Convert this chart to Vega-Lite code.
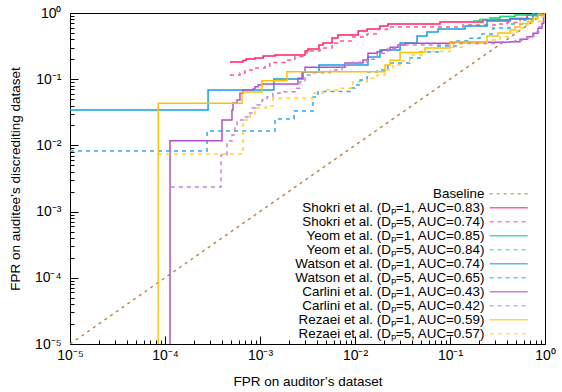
{
  "$schema": "https://vega.github.io/schema/vega-lite/v6.json",
  "width": 475,
  "height": 331,
  "autosize": "none",
  "padding": {"left": 70, "top": 13, "right": 17, "bottom": 48},
  "background": "white",
  "config": {
    "font": "Liberation Sans",
    "view": {"stroke": "black", "strokeWidth": 1},
    "axis": {
      "domain": false,
      "grid": false,
      "labelFont": "Liberation Sans",
      "labelFontSize": 14,
      "labelColor": "black",
      "titleFont": "Liberation Sans",
      "titleFontSize": 13.5,
      "titleFontWeight": "normal",
      "titleColor": "black",
      "tickColor": "black",
      "labelOverlap": false,
      "labelFlush": false
    },
    "legend": {
      "orient": "none",
      "legendX": 432,
      "legendY": 174,
      "symbolType": "M-9.5,0H9.5",
      "symbolSize": 16,
      "symbolStrokeWidth": 1.5,
      "symbolOpacity": 0.7,
      "labelAlign": "right",
      "labelOffset": -31,
      "labelFont": "Liberation Sans",
      "labelFontSize": 13.4,
      "labelColor": "black",
      "labelLimit": 400,
      "rowPadding": -2.2,
      "padding": 0
    }
  },
  "datasets": {
    "roc": [
      {"s":"B","i":0,"x":1e-5,"y":1e-5},{"s":"B","i":1,"x":1,"y":1},

      {"s":"S1","i":0,"x":4.83e-4,"y":0.182},{"s":"S1","i":1,"x":6.62e-4,"y":0.1916},{"s":"S1","i":2,"x":7.13e-4,"y":0.2018},{"s":"S1","i":3,"x":8.85e-4,"y":0.209},{"s":"S1","i":4,"x":1.08e-3,"y":0.224},{"s":"S1","i":5,"x":1.44e-3,"y":0.232},{"s":"S1","i":6,"x":2.98e-3,"y":0.267},{"s":"S1","i":7,"x":3.2e-3,"y":0.286},{"s":"S1","i":8,"x":4.18e-3,"y":0.329},{"s":"S1","i":9,"x":4.6e-3,"y":0.352},{"s":"S1","i":10,"x":5.73e-3,"y":0.419},{"s":"S1","i":11,"x":6.62e-3,"y":0.465},{"s":"S1","i":12,"x":1.08e-2,"y":0.535},{"s":"S1","i":13,"x":1.34e-2,"y":0.573},{"s":"S1","i":14,"x":1.83e-2,"y":0.636},{"s":"S1","i":15,"x":2.22e-2,"y":0.682},{"s":"S1","i":16,"x":7.85e-2,"y":0.731},{"s":"S1","i":17,"x":0.222,"y":0.784},{"s":"S1","i":18,"x":0.429,"y":0.826},{"s":"S1","i":19,"x":0.647,"y":0.933},{"s":"S1","i":20,"x":1,"y":1},

      {"s":"S5","i":0,"x":4.83e-4,"y":0.1157},{"s":"S5","i":1,"x":6.15e-4,"y":0.124},{"s":"S5","i":2,"x":6.95e-4,"y":0.1377},{"s":"S5","i":3,"x":8.24e-4,"y":0.1476},{"s":"S5","i":4,"x":1.13e-3,"y":0.158},{"s":"S5","i":5,"x":1.27e-3,"y":0.179},{"s":"S5","i":6,"x":1.83e-3,"y":0.195},{"s":"S5","i":7,"x":2.33e-3,"y":0.22},{"s":"S5","i":8,"x":2.98e-3,"y":0.249},{"s":"S5","i":9,"x":3.36e-3,"y":0.267},{"s":"S5","i":10,"x":4.28e-3,"y":0.296},{"s":"S5","i":11,"x":5.73e-3,"y":0.352},{"s":"S5","i":12,"x":6.62e-3,"y":0.378},{"s":"S5","i":13,"x":9.29e-3,"y":0.434},{"s":"S5","i":14,"x":1.34e-2,"y":0.482},{"s":"S5","i":15,"x":1.71e-2,"y":0.563},{"s":"S5","i":16,"x":2.17e-2,"y":0.614},{"s":"S5","i":17,"x":0.137,"y":0.659},{"s":"S5","i":18,"x":0.298,"y":0.682},{"s":"S5","i":19,"x":0.398,"y":0.719},{"s":"S5","i":20,"x":0.546,"y":0.826},{"s":"S5","i":21,"x":0.748,"y":0.933},{"s":"S5","i":22,"x":1,"y":1},

      {"s":"Y1","i":0,"x":0.1746,"y":0.757},{"s":"Y1","i":1,"x":0.207,"y":0.798},{"s":"Y1","i":2,"x":0.264,"y":0.84},{"s":"Y1","i":3,"x":0.336,"y":0.885},{"s":"Y1","i":4,"x":0.483,"y":0.933},{"s":"Y1","i":5,"x":0.748,"y":0.966},{"s":"Y1","i":6,"x":1,"y":1},

      {"s":"Y5","i":0,"x":0.1746,"y":0.757},{"s":"Y5","i":1,"x":0.207,"y":0.798},{"s":"Y5","i":2,"x":0.264,"y":0.84},{"s":"Y5","i":3,"x":0.336,"y":0.885},{"s":"Y5","i":4,"x":0.483,"y":0.933},{"s":"Y5","i":5,"x":0.748,"y":0.966},{"s":"Y5","i":6,"x":1,"y":1},

      {"s":"W1","i":0,"x":1e-5,"y":0.0343},{"s":"W1","i":1,"x":2.84e-4,"y":0.0687},{"s":"W1","i":2,"x":1.4e-3,"y":0.1007},{"s":"W1","i":3,"x":2.84e-3,"y":0.1285},{"s":"W1","i":4,"x":4.18e-3,"y":0.164},{"s":"W1","i":5,"x":1.37e-2,"y":0.2165},{"s":"W1","i":6,"x":1.83e-2,"y":0.276},{"s":"W1","i":7,"x":2.98e-2,"y":0.352},{"s":"W1","i":8,"x":4.5e-2,"y":0.45},{"s":"W1","i":9,"x":5.73e-2,"y":0.516},{"s":"W1","i":10,"x":7.48e-2,"y":0.573},{"s":"W1","i":11,"x":0.144,"y":0.636},{"s":"W1","i":12,"x":0.245,"y":0.757},{"s":"W1","i":13,"x":0.429,"y":0.812},{"s":"W1","i":14,"x":0.748,"y":0.933},{"s":"W1","i":15,"x":1,"y":1},

      {"s":"W5","i":0,"x":1e-5,"y":0.00823},{"s":"W5","i":1,"x":2.77e-4,"y":0.0165},{"s":"W5","i":2,"x":1.44e-3,"y":0.0251},{"s":"W5","i":3,"x":2.28e-3,"y":0.0331},{"s":"W5","i":4,"x":3.61e-3,"y":0.0538},{"s":"W5","i":5,"x":4.08e-3,"y":0.0652},{"s":"W5","i":6,"x":8.86e-3,"y":0.0736},{"s":"W5","i":7,"x":1.0e-2,"y":0.0818},{"s":"W5","i":8,"x":1.129e-2,"y":0.0972},{"s":"W5","i":9,"x":1.34e-2,"y":0.1285},{"s":"W5","i":10,"x":1.71e-2,"y":0.1377},{"s":"W5","i":11,"x":2.22e-2,"y":0.1757},{"s":"W5","i":12,"x":3.79e-2,"y":0.209},{"s":"W5","i":13,"x":4.83e-2,"y":0.2576},{"s":"W5","i":14,"x":7.48e-2,"y":0.3175},{"s":"W5","i":15,"x":0.1185,"y":0.378},{"s":"W5","i":16,"x":0.151,"y":0.415},{"s":"W5","i":17,"x":0.207,"y":0.482},{"s":"W5","i":18,"x":0.2836,"y":0.593},{"s":"W5","i":19,"x":0.429,"y":0.682},{"s":"W5","i":20,"x":0.587,"y":0.784},{"s":"W5","i":21,"x":0.748,"y":0.901},{"s":"W5","i":22,"x":1,"y":1},

      {"s":"C1","i":0,"x":1.129e-4,"y":1e-6},{"s":"C1","i":1,"x":1.129e-4,"y":0.01178},{"s":"C1","i":2,"x":3.98e-4,"y":0.0242},{"s":"C1","i":3,"x":5.07e-4,"y":0.0343},{"s":"C1","i":4,"x":5.2e-4,"y":0.0437},{"s":"C1","i":5,"x":5.73e-4,"y":0.0485},{"s":"C1","i":6,"x":6.15e-4,"y":0.0612},{"s":"C1","i":7,"x":6.62e-4,"y":0.0687},{"s":"C1","i":8,"x":8.44e-4,"y":0.0711},{"s":"C1","i":9,"x":8.85e-4,"y":0.077},{"s":"C1","i":10,"x":9.53e-4,"y":0.0818},{"s":"C1","i":11,"x":1.05e-3,"y":0.0846},{"s":"C1","i":12,"x":2.51e-3,"y":0.1032},{"s":"C1","i":13,"x":2.77e-3,"y":0.1298},{"s":"C1","i":14,"x":2.98e-3,"y":0.1513},{"s":"C1","i":15,"x":7.85e-3,"y":0.1757},{"s":"C1","i":16,"x":1.214e-2,"y":0.195},{"s":"C1","i":17,"x":1.37e-2,"y":0.246},{"s":"C1","i":18,"x":1.71e-2,"y":0.26},{"s":"C1","i":19,"x":1.92e-2,"y":0.276},{"s":"C1","i":20,"x":2.34e-2,"y":0.3032},{"s":"C1","i":21,"x":2.84e-2,"y":0.3285},{"s":"C1","i":22,"x":3.36e-2,"y":0.3485},{"s":"C1","i":23,"x":0.1,"y":0.3608},{"s":"C1","i":24,"x":0.429,"y":0.3685},{"s":"C1","i":25,"x":0.546,"y":0.4006},{"s":"C1","i":26,"x":0.647,"y":0.4385},{"s":"C1","i":27,"x":0.748,"y":0.494},{"s":"C1","i":28,"x":0.844,"y":0.587},{"s":"C1","i":29,"x":0.93,"y":0.694},{"s":"C1","i":30,"x":0.965,"y":0.87},{"s":"C1","i":31,"x":1,"y":1},

      {"s":"C5","i":0,"x":1.129e-4,"y":1e-6},{"s":"C5","i":1,"x":1.129e-4,"y":0.00235},{"s":"C5","i":2,"x":3.89e-4,"y":0.00716},{"s":"C5","i":3,"x":4.49e-4,"y":0.01166},{"s":"C5","i":4,"x":5.07e-4,"y":0.01436},{"s":"C5","i":5,"x":5.45e-4,"y":0.019},{"s":"C5","i":6,"x":5.73e-4,"y":0.0242},{"s":"C5","i":7,"x":6.62e-4,"y":0.0269},{"s":"C5","i":8,"x":7.47e-4,"y":0.0309},{"s":"C5","i":9,"x":8.24e-4,"y":0.0367},{"s":"C5","i":10,"x":9.3e-4,"y":0.0408},{"s":"C5","i":11,"x":1.05e-3,"y":0.0485},{"s":"C5","i":12,"x":1.185e-3,"y":0.0544},{"s":"C5","i":13,"x":1.37e-3,"y":0.0612},{"s":"C5","i":14,"x":1.62e-3,"y":0.0647},{"s":"C5","i":15,"x":2.33e-3,"y":0.0729},{"s":"C5","i":16,"x":2.64e-3,"y":0.0917},{"s":"C5","i":17,"x":2.98e-3,"y":0.1157},{"s":"C5","i":18,"x":3.61e-3,"y":0.1254},{"s":"C5","i":19,"x":5.45e-3,"y":0.1377},{"s":"C5","i":20,"x":7.3e-3,"y":0.164},{"s":"C5","i":21,"x":9.53e-3,"y":0.18},{"s":"C5","i":22,"x":1.34e-2,"y":0.1998},{"s":"C5","i":23,"x":1.71e-2,"y":0.246},{"s":"C5","i":24,"x":2.22e-2,"y":0.293},{"s":"C5","i":25,"x":2.84e-2,"y":0.3285},{"s":"C5","i":26,"x":0.1,"y":0.346},{"s":"C5","i":27,"x":0.336,"y":0.3645},{"s":"C5","i":28,"x":0.483,"y":0.384},{"s":"C5","i":29,"x":0.573,"y":0.412},{"s":"C5","i":30,"x":0.662,"y":0.45},{"s":"C5","i":31,"x":0.766,"y":0.516},{"s":"C5","i":32,"x":0.865,"y":0.614},{"s":"C5","i":33,"x":0.93,"y":0.731},{"s":"C5","i":34,"x":0.976,"y":0.87},{"s":"C5","i":35,"x":1,"y":1},

      {"s":"R1","i":0,"x":8.5e-5,"y":1e-6},{"s":"R1","i":1,"x":8.5e-5,"y":0.0432},{"s":"R1","i":2,"x":6.46e-4,"y":0.064},{"s":"R1","i":3,"x":1.05e-3,"y":0.0949},{"s":"R1","i":4,"x":1.92e-3,"y":0.1298},{"s":"R1","i":5,"x":2.07e-2,"y":0.164},{"s":"R1","i":6,"x":2.34e-2,"y":0.193},{"s":"R1","i":7,"x":2.98e-2,"y":0.253},{"s":"R1","i":8,"x":5.45e-2,"y":0.296},{"s":"R1","i":9,"x":0.1,"y":0.3645},{"s":"R1","i":10,"x":0.245,"y":0.45},{"s":"R1","i":11,"x":0.32,"y":0.499},{"s":"R1","i":12,"x":0.429,"y":0.554},{"s":"R1","i":13,"x":0.483,"y":0.614},{"s":"R1","i":14,"x":0.546,"y":0.694},{"s":"R1","i":15,"x":0.662,"y":0.744},{"s":"R1","i":16,"x":0.748,"y":0.832},{"s":"R1","i":17,"x":0.844,"y":0.933},{"s":"R1","i":18,"x":1,"y":1},

      {"s":"R5","i":0,"x":8.5e-5,"y":1e-6},{"s":"R5","i":1,"x":8.5e-5,"y":0.00742},{"s":"R5","i":2,"x":6.62e-4,"y":0.0242},{"s":"R5","i":3,"x":7.85e-4,"y":0.0298},{"s":"R5","i":4,"x":8.85e-4,"y":0.0367},{"s":"R5","i":5,"x":1.157e-3,"y":0.0394},{"s":"R5","i":6,"x":1.37e-3,"y":0.0515},{"s":"R5","i":7,"x":3.61e-3,"y":0.0612},{"s":"R5","i":8,"x":4.6e-3,"y":0.0687},{"s":"R5","i":9,"x":6.62e-3,"y":0.0729},{"s":"R5","i":10,"x":9.53e-3,"y":0.0917},{"s":"R5","i":11,"x":1.34e-2,"y":0.1032},{"s":"R5","i":12,"x":1.71e-2,"y":0.1157},{"s":"R5","i":13,"x":2.07e-2,"y":0.1377},{"s":"R5","i":14,"x":2.51e-2,"y":0.164},{"s":"R5","i":15,"x":2.98e-2,"y":0.188},{"s":"R5","i":16,"x":3.79e-2,"y":0.232},{"s":"R5","i":17,"x":5.45e-2,"y":0.262},{"s":"R5","i":18,"x":0.1,"y":0.3032},{"s":"R5","i":19,"x":0.1337,"y":0.3485},{"s":"R5","i":20,"x":0.245,"y":0.391},{"s":"R5","i":21,"x":0.336,"y":0.4385},{"s":"R5","i":22,"x":0.429,"y":0.494},{"s":"R5","i":23,"x":0.507,"y":0.587},{"s":"R5","i":24,"x":0.587,"y":0.659},{"s":"R5","i":25,"x":0.73,"y":0.739},{"s":"R5","i":26,"x":0.886,"y":0.879},{"s":"R5","i":27,"x":1,"y":1}
    ]
  },
  "data": {"name": "roc"},
  "encoding": {
    "x": {
      "field": "x", "type": "quantitative",
      "scale": {"type": "log", "domain": [1e-5, 1], "nice": false},
      "title": "FPR on auditor’s dataset",
      "axis": {
        "values": [1e-5,2e-5,3e-5,4e-5,5e-5,6e-5,7e-5,8e-5,9e-5,1e-4,2e-4,3e-4,4e-4,5e-4,6e-4,7e-4,8e-4,9e-4,1e-3,2e-3,3e-3,4e-3,5e-3,6e-3,7e-3,8e-3,9e-3,1e-2,2e-2,3e-2,4e-2,5e-2,6e-2,7e-2,8e-2,9e-2,0.1,0.2,0.3,0.4,0.5,0.6,0.7,0.8,0.9,1],
        "labelExpr": "abs(log(datum.value)/LN10 - round(log(datum.value)/LN10)) > 0.001 ? '' : ['10⁰','10⁻¹','10⁻²','10⁻³','10⁻⁴','10⁻⁵'][-round(log(datum.value)/LN10)]",
        "tickSize": {"condition": {"test": "abs(log(datum.value)/LN10 - round(log(datum.value)/LN10)) < 0.001", "value": -8}, "value": -4},
        "labelPadding": 12,
        "titlePadding": 8
      }
    },
    "y": {
      "field": "y", "type": "quantitative",
      "scale": {"type": "log", "domain": [1e-5, 1], "nice": false},
      "title": "FPR on auditee’s discrediting dataset",
      "axis": {
        "values": [1e-5,2e-5,3e-5,4e-5,5e-5,6e-5,7e-5,8e-5,9e-5,1e-4,2e-4,3e-4,4e-4,5e-4,6e-4,7e-4,8e-4,9e-4,1e-3,2e-3,3e-3,4e-3,5e-3,6e-3,7e-3,8e-3,9e-3,1e-2,2e-2,3e-2,4e-2,5e-2,6e-2,7e-2,8e-2,9e-2,0.1,0.2,0.3,0.4,0.5,0.6,0.7,0.8,0.9,1],
        "labelExpr": "abs(log(datum.value)/LN10 - round(log(datum.value)/LN10)) > 0.001 ? '' : ['10⁰','10⁻¹','10⁻²','10⁻³','10⁻⁴','10⁻⁵'][-round(log(datum.value)/LN10)]",
        "tickSize": {"condition": {"test": "abs(log(datum.value)/LN10 - round(log(datum.value)/LN10)) < 0.001", "value": -8}, "value": -4},
        "labelPadding": 17,
        "titlePadding": 12
      }
    },
    "color": {
      "field": "s", "type": "nominal", "title": null,
      "scale": {
        "domain": ["B","S1","S5","Y1","Y5","W1","W5","C1","C5","R1","R5"],
        "range": ["#b8894d","#ff2060","#ff5a88","#10c870","#40d890","#10a0e0","#30aae8","#b050c8","#c482dc","#ffc000","#ffd040"]
      },
      "legend": {
        "labelExpr": "{'B':'Baseline','S1':'Shokri et al. (Dₚ=1, AUC=0.83)','S5':'Shokri et al. (Dₚ=5, AUC=0.74)','Y1':'Yeom et al. (Dₚ=1, AUC=0.85)','Y5':'Yeom et al. (Dₚ=5, AUC=0.84)','W1':'Watson et al. (Dₚ=1, AUC=0.74)','W5':'Watson et al. (Dₚ=5, AUC=0.65)','C1':'Carlini et al. (Dₚ=1, AUC=0.43)','C5':'Carlini et al. (Dₚ=5, AUC=0.42)','R1':'Rezaei et al. (Dₚ=1, AUC=0.59)','R5':'Rezaei et al. (Dₚ=5, AUC=0.57)'}[datum.label]"
      }
    },
    "strokeDash": {
      "field": "s", "type": "nominal", "title": null,
      "scale": {
        "domain": ["B","S1","S5","Y1","Y5","W1","W5","C1","C5","R1","R5"],
        "range": [[3,4],[1,0],[4,4],[1,0],[4,4],[1,0],[4,4],[1,0],[4,4],[1,0],[4,4]]
      },
      "legend": {
        "labelExpr": "{'B':'Baseline','S1':'Shokri et al. (Dₚ=1, AUC=0.83)','S5':'Shokri et al. (Dₚ=5, AUC=0.74)','Y1':'Yeom et al. (Dₚ=1, AUC=0.85)','Y5':'Yeom et al. (Dₚ=5, AUC=0.84)','W1':'Watson et al. (Dₚ=1, AUC=0.74)','W5':'Watson et al. (Dₚ=5, AUC=0.65)','C1':'Carlini et al. (Dₚ=1, AUC=0.43)','C5':'Carlini et al. (Dₚ=5, AUC=0.42)','R1':'Rezaei et al. (Dₚ=1, AUC=0.59)','R5':'Rezaei et al. (Dₚ=5, AUC=0.57)'}[datum.label]"
      }
    },
    "order": {"field": "i", "type": "quantitative"}
  },
  "layer": [
    {
      "transform": [{"filter": "datum.s === 'B'"}],
      "mark": {"type": "line", "interpolate": "linear", "clip": true, "strokeWidth": 1.5}
    },
    {
      "transform": [{"filter": "datum.s !== 'B'"}],
      "mark": {"type": "line", "interpolate": "step-after", "clip": true, "strokeWidth": 1.5}
    }
  ]
}
